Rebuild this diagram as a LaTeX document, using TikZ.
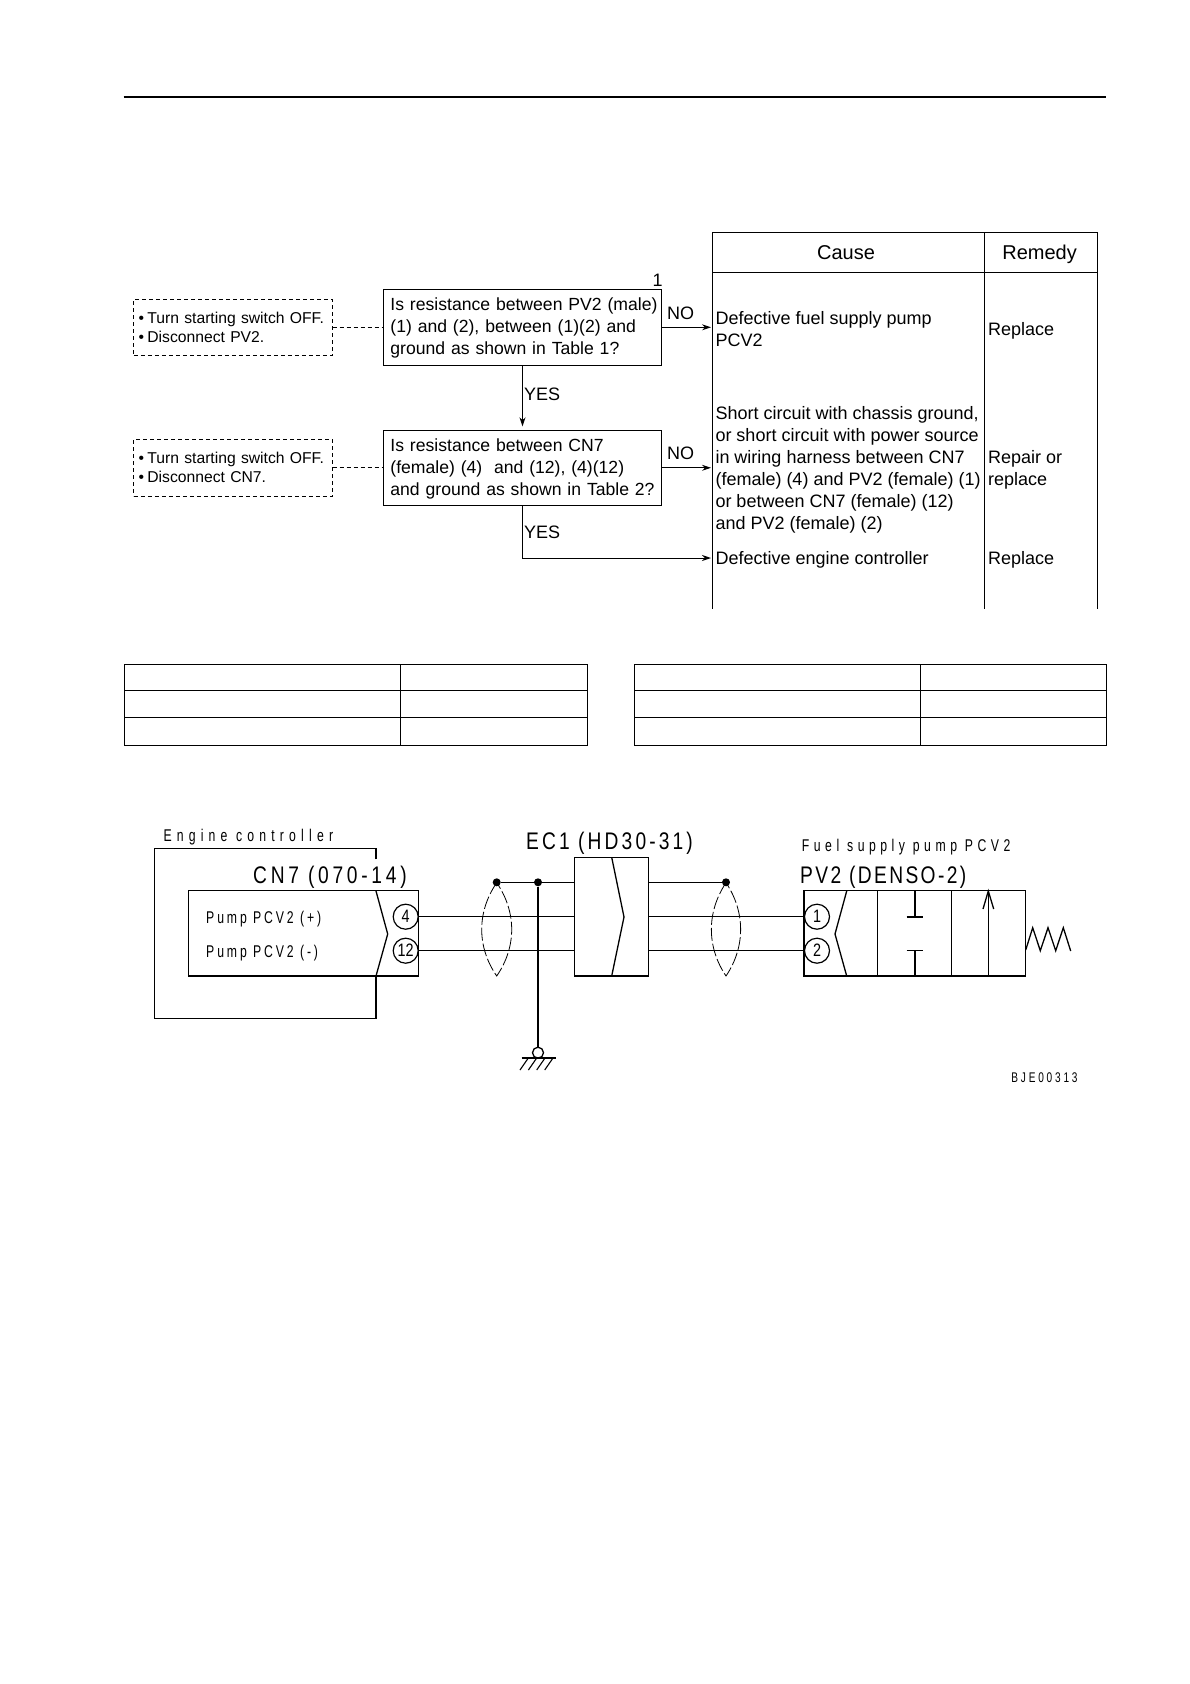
\documentclass[tikz,border=0pt]{standalone}
\usepackage{fontspec}
\setmainfont{Liberation Sans}
\newfontfamily\wirefont[FakeStretch=0.8,LetterSpace=13]{Liberation Sans}
\newfontfamily\wirewide[FakeStretch=0.8,LetterSpace=15.5]{Liberation Sans}
\newfontfamily\wiretight[FakeStretch=0.8,LetterSpace=10]{Liberation Sans}
\newfontfamily\tagfont[FakeStretch=0.72,LetterSpace=26.5]{Liberation Sans}
\newfontfamily\enginefont[FakeStretch=0.72,LetterSpace=30.5]{Liberation Sans}
\newfontfamily\pumpfont[FakeStretch=0.72,LetterSpace=17]{Liberation Sans}
\newfontfamily\codefont[FakeStretch=0.72,LetterSpace=20]{Liberation Sans}
\newfontfamily\pinfont[FakeStretch=0.8]{Liberation Sans}
\newcommand\qtop{\rule{0pt}{14.8pt}}
\usetikzlibrary{arrows.meta,positioning,calc}

\begin{document}
\begin{tikzpicture}[x=1pt,y=-1pt,
  check/.style={rectangle,draw=black,line width=0.9pt,dash pattern=on 4pt off 3pt,minimum width=198.5pt,
                inner sep=0pt,font=\fontsize{15.7}{19}\selectfont,text width=189pt,align=left},
  quest/.style={rectangle,draw=black,line width=1pt,
                inner xsep=7pt,inner ysep=0pt,text width=264.2pt,align=left,font=\fontsize{17.6}{22}\selectfont},
  label/.style={inner sep=0pt,anchor=base west,font=\fontsize{18}{22}\selectfont},
  body/.style={inner sep=0pt,anchor=west,align=left,font=\fontsize{18}{22}\selectfont},
  line/.style={draw,-{Stealth[length=9pt,width=6pt]},line width=1pt},
  link/.style={draw,line width=0.9pt,dash pattern=on 4pt off 3pt},
  wire/.style={draw,line width=1.4pt},
  shield/.style={draw,line width=0.8pt,dash pattern=on 13pt off 3pt},
  conn/.style={rectangle,draw,line width=1.3pt,inner sep=0pt},
  pin/.style={circle,draw,fill=white,line width=1.2pt,minimum size=25pt,inner sep=0pt,font=\pinfont\fontsize{18}{18}\selectfont},
  joint/.style={circle,fill=black,inner sep=0pt,minimum size=8pt},
  small/.style={inner sep=0pt,anchor=base west,font=\tagfont\fontsize{17}{17}\selectfont},
  pump/.style={inner sep=0pt,anchor=base west,font=\pumpfont\fontsize{17}{17}\selectfont},
  big/.style={inner sep=0pt,anchor=base west,font=\wirefont\fontsize{24}{24}\selectfont}]
\useasboundingbox (0,0) rectangle (1190,1684);
\fill[white] (0,0) rectangle (1190,1684);
\draw[line width=2pt] (123.5,96.7) -- (1106,96.7);
% cause and remedy table, open at the bottom
\draw[line width=1pt] (712.5,608.5) -- (712.5,232) -- (1097.7,232) -- (1097.7,608.5);
\draw[line width=1pt] (984,232) -- (984,608.5);
\draw[line width=1pt] (712.5,272.5) -- (1097.7,272.5);
\node[font=\fontsize{20}{22}\selectfont,inner sep=0pt,anchor=base] (cause) at (846,259) {Cause};
\node[font=\fontsize{20}{22}\selectfont,inner sep=0pt,anchor=base] (remedy) at (1039.6,259) {Remedy};
\node[body] (c1) at (715.3,329) {Defective fuel supply pump\\PCV2};
\node[label] (r1) at (988,335) {Replace};
\node[body] (c2) at (715.3,470) {Short circuit with chassis ground,\\or short circuit with power source\\in wiring harness between CN7\\(female) (4) and PV2 (female) (1)\\or between CN7 (female) (12)\\and PV2 (female) (2)};
\node[body] (r2) at (988,469.5) {Repair or\\replace};
\node[label] (c3) at (715.3,564.5) {Defective engine controller};
\node[label] (r3) at (988,564.5) {Replace};
% flow chart
\node[check,minimum height=56pt] (d1) at (233,327.3) {\mbox{\textbullet\hspace{3.4pt}Turn starting switch OFF.}\\\textbullet\hspace{3.4pt}Disconnect PV2.};
\node[check,minimum height=57pt] (d2) at (233,467.8) {\mbox{\textbullet\hspace{3.4pt}Turn starting switch OFF.}\\\textbullet\hspace{3.4pt}Disconnect CN7.};
\node[quest,minimum height=76pt] (q1) at (522.5,327.3) {\qtop\mbox{Is resistance between PV2 (male)}\\(1) and (2), between (1)(2) and\\ground as shown in Table 1?};
\node[quest,minimum height=75pt] (q2) at (522.5,467.8) {\qtop Is resistance between CN7\\(female) (4)~ and (12), (4)(12)\\\mbox{and ground as shown in Table 2?}};
\node[inner sep=0pt,anchor=base,font=\fontsize{18}{22}\selectfont] (num) at (657.7,286) {1};
\node[label] (no1) at (667,319.3) {NO};
\node[label] (no2) at (667,459.3) {NO};
\node[label] (yes1) at (524,400) {YES};
\node[label] (yes2) at (524,538.3) {YES};
\coordinate (t1) at (711,327.3);
\coordinate (t2) at (711,467.8);
\coordinate (t3) at (711,558);
\path[link] (d1) -- (q1);
\path[link] (d2) -- (q2);
\path[line] (q1) -- (t1);
\path[line] (q2) -- (t2);
\path[line,shorten >=3.5pt] (q1) -- (q2);
\path[line] (q2) |- (t3);
% lower tables are left empty
\draw[line width=1pt] (124,664) rectangle (587.5,745.4);
\draw[line width=1pt] (124,690.8) -- (587.5,690.8) (124,717.6) -- (587.5,717.6) (400.6,664) -- (400.6,745.4);
\draw[line width=1pt] (634.2,664) rectangle (1106.2,745.4);
\draw[line width=1pt] (634.2,690.8) -- (1106.2,690.8) (634.2,717.6) -- (1106.2,717.6) (920.4,664) -- (920.4,745.4);
% wiring: controller side
\draw[line width=1.3pt] (376,859.3) -- (376,848.7) -- (154.7,848.7) -- (154.7,1018.7) -- (376,1018.7) -- (376,976);
\node[conn,minimum width=230pt,minimum height=85.3pt] (cn7) at (303.7,933.4) {};
\draw[line width=1.3pt] (376,891) -- (387.7,934) -- (376,976);
\node[pin] (p4) at (405.7,916.7) {4};
\node[pin] (p12) at (405.7,950.7) {12};
\node[small,font=\enginefont\fontsize{17}{17}\selectfont] (engine) at (163.3,841.7) {Engine controller};
\node[big,font=\wirewide\fontsize{24}{24}\selectfont] (cn7t) at (253,883) {CN7 (070-14)};
\node[pump] (pump1) at (206,923.3) {Pump PCV2 (+)};
\node[pump] (pump2) at (206,957.3) {Pump PCV2 (-)};
% wiring: relay connector
\node[conn,minimum width=74pt,minimum height=118.7pt] (ec1) at (611.3,916.7) {};
\draw[line width=1.3pt] (611.7,857.3) -- (624,917) -- (611.7,976);
\node[big] (ec1t) at (526,849) {EC1 (HD30-31)};
% wiring: pump side
\node[conn,minimum width=221.3pt,minimum height=85.3pt] (pv2) at (914.7,933.4) {};
\draw[line width=1.3pt] (846.7,891) -- (835,934) -- (846.7,976);
\draw[line width=1.3pt] (877.7,890.7) -- (877.7,976) (951.7,890.7) -- (951.7,976);
\draw[line width=1.3pt] (915,890.7) -- (915,917) (906.7,917) -- (922.7,917);
\draw[line width=1.3pt] (915,976) -- (915,950.5) (906.7,950.5) -- (922.7,950.5);
\draw[line width=1.3pt] (988.3,976) -- (988.3,891);
\draw[line width=1.3pt] (983,909) -- (988.3,891) -- (993.7,909);
\draw[line width=1.3pt] (1025.7,950) -- (1032.7,927.7) -- (1040.3,950.7) -- (1048,927.7) -- (1055.7,950.7) -- (1063.3,927.7) -- (1070.7,951);
\node[pin] (p1) at (817,916.7) {1};
\node[pin] (p2) at (817,950.7) {2};
\node[small] (fuel) at (801.7,851.7) {Fuel supply pump PCV2};
\node[big,font=\wiretight\fontsize{24}{24}\selectfont] (pv2t) at (800,883) {PV2 (DENSO-2)};
\node[pump,font=\codefont\fontsize{14}{14}\selectfont] (code) at (1011.2,1082.7) {BJE00313};
% harness between the connectors
\node[joint] (jl) at (496.7,882.3) {};
\node[joint] (jg) at (538,882.3) {};
\node[joint] (jr) at (726,882.3) {};
\node[circle,draw,fill=white,line width=1.3pt,minimum size=11pt,inner sep=0pt] (earth) at (538,1052.7) {};
\path[wire] (p4) -- (p4 -| ec1.west);
\path[wire] (p12) -- (p12 -| ec1.west);
\path[wire] (p4 -| ec1.east) -- (p1);
\path[wire] (p12 -| ec1.east) -- (p2);
\path[wire] (jl) -- (jl -| ec1.west);
\path[wire] (jr -| ec1.east) -- (jr);
\path[wire] (jg) -- (earth);
\path[shield] (496.7,882.7) .. controls (476.7,912) and (476.7,947) .. (496.7,976) .. controls (516.7,947) and (516.7,912) .. (496.7,882.7);
\path[shield] (726,882.7) .. controls (706.5,912) and (706.5,947) .. (726,976) .. controls (745.5,947) and (745.5,912) .. (726,882.7);
\draw[line width=1.3pt] (521.7,1058) -- (555.7,1058);
\foreach \hx in {528.3,536.7,545,553}
  \draw[line width=1.1pt] (\hx,1058) -- (\hx-8.3,1070);
\end{tikzpicture}
\end{document}
